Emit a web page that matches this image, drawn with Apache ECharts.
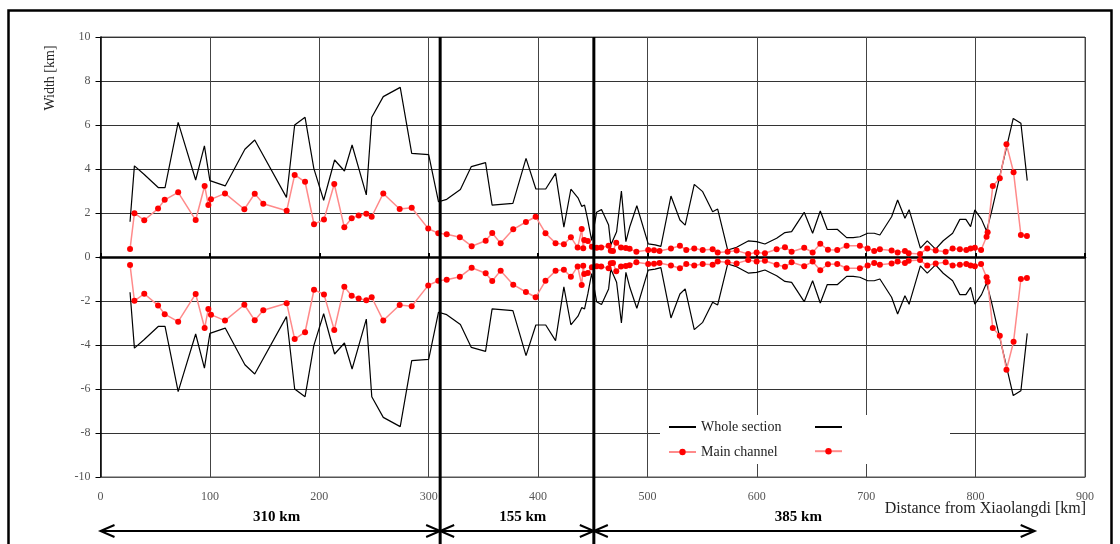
<!DOCTYPE html>
<html>
<head>
<meta charset="utf-8">
<script src="https://cdn.jsdelivr.net/npm/echarts@6/dist/echarts.min.js"></script>
<style>
  html, body { margin: 0; padding: 0; background: #fff; }
  #chart { width: 1120px; height: 544px; }
</style>
</head>
<body>
<div id="chart"></div>
<script>
// half widths (km), lower half is the mirror
var wholeKm = [27, 31, 40, 53, 59, 71, 87, 95, 100, 114, 132, 141, 170, 177.5, 187, 195, 204, 214, 223, 230,
  243, 248, 258.5, 274, 284.5, 300, 309, 316.5, 329, 339, 352, 358, 377, 389, 398, 407, 416, 423.6, 430, 436.5,
  440, 441.5, 442.5, 445.5, 449, 453.5, 458, 464.5, 466.5, 471.8, 476.2, 480.3, 484, 490.3, 500.7, 507, 512.3,
  521.5, 529.7, 534.5, 542.8, 550.5, 559.6, 564.2, 573.3, 581.5, 592.1, 599.8, 607.4, 618.1, 625.7, 631.8,
  643.3, 651, 658, 664.4, 673.5, 682.1, 688.1, 694.2, 701.3, 707.3, 712.5, 723.2, 728.7, 735.4, 739.2, 749.5,
  755.8, 763.4, 770.4, 779, 785.6, 791.1, 795.4, 799.3, 805.4, 810, 814.6, 834.4, 841.4, 847.2];
var wholeHalf = [1.60, 4.14, 3.75, 3.15, 3.15, 6.12, 3.50, 5.05, 3.47, 3.23, 4.90, 5.32, 2.71, 6.00, 6.35, 4.03,
  2.58, 4.41, 3.91, 5.09, 2.82, 6.35, 7.29, 7.71, 4.71, 4.65, 2.51, 2.62, 3.07, 4.11, 4.29, 2.36, 2.44, 4.48,
  3.09, 3.09, 3.80, 1.36, 3.08, 2.69, 2.30, 2.26, 2.36, 1.68, 0.75, 2.03, 2.16, 1.45, 0.55, 1.15, 3.00, 0.70,
  1.40, 2.33, 0.60, 0.55, 0.48, 2.77, 1.68, 1.45, 3.30, 2.97, 2.06, 2.18, 0.32, 0.44, 0.73, 0.70, 0.59, 0.85,
  1.11, 1.15, 2.03, 1.08, 2.09, 1.25, 1.26, 0.88, 0.88, 0.92, 1.08, 1.08, 1.00, 1.83, 2.59, 1.76, 2.15, 0.40,
  0.73, 0.36, 0.74, 1.08, 1.71, 1.71, 1.38, 2.14, 1.71, 1.18, 2.06, 6.30, 6.08, 3.47];

var mainKm = [27, 31, 40, 52.6, 58.7, 71, 87, 95.2, 98.6, 101, 113.8, 131.5, 141, 148.8, 170.2, 177.5, 187,
  195.2, 204.3, 213.7, 222.9, 229.6, 236, 243, 247.9, 258.5, 273.5, 284.5, 299.6, 308.8, 316.5, 328.5, 339.3,
  352.1, 358.1, 365.8, 377.3, 388.9, 397.8, 406.8, 416, 423.6, 430, 436.2, 439.9, 441.3, 442.2, 445.5, 449.2,
  453.6, 457.7, 464.5, 466.5, 468.5, 471.5, 475.8, 480.2, 483.7, 489.9, 500.7, 506, 511, 521.5, 529.7, 535.5,
  542.8, 550.5, 559.6, 564.2, 573.3, 581.5, 592.1, 599.8, 607.4, 618.1, 625.7, 631.8, 643.3, 651, 658, 665,
  673.5, 682.1, 694.2, 701.3, 707.3, 712.5, 723.2, 728.7, 735.4, 738.8, 749.2, 755.8, 763.5, 772.6, 779, 785.6,
  791.5, 795.4, 799.3, 805, 810, 811, 815.7, 822.1, 828.2, 834.7, 841.4, 846.9];
var mainHalf = [0.36, 1.99, 1.67, 2.20, 2.60, 2.94, 1.68, 3.23, 2.36, 2.62, 2.89, 2.17, 2.88, 2.42, 2.10, 3.73,
  3.42, 1.49, 1.70, 3.32, 1.35, 1.76, 1.89, 1.97, 1.83, 2.89, 2.18, 2.24, 1.29, 1.08, 1.03, 0.90, 0.49, 0.74,
  1.09, 0.62, 1.26, 1.59, 1.83, 1.08, 0.63, 0.58, 0.90, 0.43, 1.27, 0.40, 0.77, 0.73, 0.47, 0.42, 0.43, 0.51,
  0.28, 0.27, 0.65, 0.43, 0.41, 0.37, 0.24, 0.32, 0.31, 0.27, 0.39, 0.51, 0.32, 0.39, 0.32, 0.35, 0.21, 0.24,
  0.29, 0.14, 0.21, 0.17, 0.35, 0.44, 0.24, 0.42, 0.21, 0.60, 0.33, 0.32, 0.51, 0.51, 0.39, 0.27, 0.35, 0.29,
  0.21, 0.27, 0.17, 0.14, 0.39, 0.29, 0.24, 0.39, 0.35, 0.32, 0.39, 0.42, 0.32, 0.92, 1.12, 3.23, 3.58, 5.12,
  3.85, 1.00, 0.95];

// reach boundaries (km), the lengths written under them and where those labels sit
var reachBounds = [0, 310.5, 451, 854];
var reachLabels = ['310 km', '155 km', '385 km'];
var reachLabelKm = [161, 386, 638];

var serif = '"Liberation Serif", "DejaVu Serif", serif';

function pairs(xs, ys, sign) {
  return xs.map(function (x, i) { return [x, sign * ys[i]]; });
}

var chart = echarts.init(document.getElementById('chart'));

var legendText = { fontFamily: serif, fontSize: 14, color: '#222', lineHeight: 16 };

var option = {
  animation: false,
  backgroundColor: '#fff',
  grid: {
    left: 100.5, right: 35, top: 37, bottom: 67,
    show: true, borderColor: '#555', borderWidth: 1
  },
  xAxis: [{
    type: 'value', min: 0, max: 900, interval: 100,
    axisLine: { onZero: false, lineStyle: { color: '#555', width: 1 } },
    axisTick: { show: false },
    axisLabel: { color: '#555', fontFamily: serif, fontSize: 12, margin: 14 },
    splitLine: { show: true, lineStyle: { color: '#444', width: 1 } }
  }, {
    // zero line with its small ticks
    type: 'value', min: 0, max: 900, interval: 100, position: 'bottom', offset: -220,
    axisLine: { onZero: false, lineStyle: { color: '#000', width: 2.5 } },
    axisTick: { show: true, inside: true, length: 4, lineStyle: { color: '#000', width: 2 } },
    axisLabel: { show: false },
    splitLine: { show: false }
  }],
  yAxis: {
    type: 'value', min: -10, max: 10, interval: 2,
    axisLine: { show: true, lineStyle: { color: '#000', width: 1.5 } },
    axisTick: { show: true, length: 5, lineStyle: { color: '#000' } },
    axisLabel: { color: '#555', fontFamily: serif, fontSize: 12, margin: 10 },
    splitLine: { show: true, lineStyle: { color: '#333', width: 1 } }
  },
  legend: [{
    orient: 'vertical', left: 668, top: 419, padding: 0,
    itemWidth: 27, itemHeight: 8, itemGap: 9,
    selectedMode: false,
    textStyle: legendText,
    data: [{ name: 'Whole section', itemStyle: { opacity: 0 } }, 'Main channel']
  }, {
    orient: 'vertical', left: 814, top: 423, padding: 0,
    itemWidth: 27, itemHeight: 8, itemGap: 17,
    selectedMode: false,
    formatter: function () { return ''; },
    textStyle: { fontSize: 1 },
    data: [{ name: 'Whole section lower', itemStyle: { opacity: 0 } }, 'Main channel lower']
  }],
  series: [{
    name: 'Whole section', type: 'line', symbol: 'none',
    lineStyle: { color: '#000', width: 1.2 }, itemStyle: { color: '#000' },
    data: pairs(wholeKm, wholeHalf, 1)
  }, {
    name: 'Whole section lower', type: 'line', symbol: 'none',
    lineStyle: { color: '#000', width: 1.2 }, itemStyle: { color: '#000' },
    data: pairs(wholeKm, wholeHalf, -1)
  }, {
    name: 'Main channel', type: 'line', symbol: 'circle', symbolSize: 6,
    lineStyle: { color: '#ff8a8a', width: 1.5 }, itemStyle: { color: '#ff0000' },
    data: pairs(mainKm, mainHalf, 1)
  }, {
    name: 'Main channel lower', type: 'line', symbol: 'circle', symbolSize: 6,
    lineStyle: { color: '#ff8a8a', width: 1.5 }, itemStyle: { color: '#ff0000' },
    data: pairs(mainKm, mainHalf, -1)
  }]
};

chart.setOption(option);

// annotations placed from the axis scale
var plotTop = 37, arrowY = 531;
function toPx(km) { return chart.convertToPixel({ xAxisIndex: 0 }, km); }
var px = reachBounds.map(toPx);
var g = [];

g.push({
  type: 'rect', z: 10, silent: true,
  shape: { x: 8.5, y: 10.5, width: 1103, height: 620 },
  style: { fill: 'none', stroke: '#000', lineWidth: 2.5 }
});
g.push({
  type: 'rect', z: 3, silent: true,
  shape: { x: 660, y: 415, width: 290, height: 49 },
  style: { fill: '#fff' }
});
[px[1], px[2]].forEach(function (x) {
  g.push({
    type: 'line', z: 5, silent: true,
    shape: { x1: x, y1: plotTop, x2: x, y2: 560 },
    style: { stroke: '#000', lineWidth: 3 }
  });
});
for (var i = 0; i < 3; i++) {
  var x0 = px[i], x1 = px[i + 1];
  g.push({
    type: 'line', z: 5, silent: true,
    shape: { x1: x0, y1: arrowY, x2: x1, y2: arrowY },
    style: { stroke: '#000', lineWidth: 2 }
  });
  g.push({
    type: 'polyline', z: 5, silent: true,
    shape: { points: [[x0 + 14, arrowY - 6], [x0, arrowY], [x0 + 14, arrowY + 6]] },
    style: { stroke: '#000', lineWidth: 2, fill: null }
  });
  g.push({
    type: 'polyline', z: 5, silent: true,
    shape: { points: [[x1 - 14, arrowY - 6], [x1, arrowY], [x1 - 14, arrowY + 6]] },
    style: { stroke: '#000', lineWidth: 2, fill: null }
  });
  g.push({
    type: 'text', z: 5, silent: true,
    x: toPx(reachLabelKm[i]), y: 517,
    style: { text: reachLabels[i], align: 'center', verticalAlign: 'middle',
      font: 'bold 15px ' + serif, fill: '#000' }
  });
}
g.push({
  type: 'text', z: 5, silent: true, x: 1086, y: 509,
  style: { text: 'Distance from Xiaolangdi [km]', align: 'right', verticalAlign: 'middle',
    font: '16px ' + serif, fill: '#222' }
});
g.push({
  type: 'text', z: 5, silent: true, x: 50, y: 78, rotation: Math.PI / 2,
  style: { text: 'Width [km]', align: 'center', verticalAlign: 'middle',
    font: '14px ' + serif, fill: '#222' }
});

chart.setOption({ graphic: g });
</script>
</body>
</html>
